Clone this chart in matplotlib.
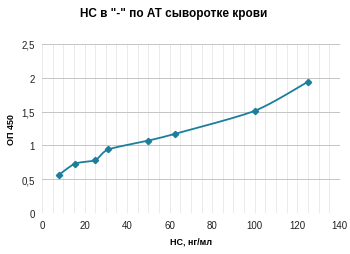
import numpy as np
import matplotlib
matplotlib.use("Agg")
import matplotlib.pyplot as plt
from matplotlib.ticker import FuncFormatter, MultipleLocator

plt.rcParams["font.family"] = ["Liberation Sans", "DejaVu Sans"]

conc = [7.8, 15.6, 25, 31.25, 50, 62.5, 100, 125]
od = [0.56, 0.73, 0.78, 0.94, 1.07, 1.17, 1.51, 1.94]
x_ticks = [0, 20, 40, 60, 80, 100, 120, 140]
y_ticks = [0, 0.5, 1, 1.5, 2, 2.5]


def smooth(x, y, n=20, k=8.0):
    # Excel-like smoothed line (Bezier through the points)
    x = np.asarray(x, float)
    y = np.asarray(y, float)
    px = np.concatenate([[x[0]], x, [x[-1]]])
    py = np.concatenate([[y[0]], y, [y[-1]]])
    xs, ys = [], []
    t = np.linspace(0, 1, n)
    for i in range(1, len(px) - 2):
        p0, p1, p2, p3 = px[i - 1], px[i], px[i + 1], px[i + 2]
        q0, q1, q2, q3 = py[i - 1], py[i], py[i + 1], py[i + 2]
        c1x, c1y = p1 + (p2 - p0) / k, q1 + (q2 - q0) / k
        c2x, c2y = p2 - (p3 - p1) / k, q2 - (q3 - q1) / k
        bx = (1-t)**3*p1 + 3*(1-t)**2*t*c1x + 3*(1-t)*t**2*c2x + t**3*p2
        by = (1-t)**3*q1 + 3*(1-t)**2*t*c1y + 3*(1-t)*t**2*c2y + t**3*q2
        xs.extend(bx)
        ys.extend(by)
    return xs, ys


fig = plt.figure(figsize=(3.5, 2.55), dpi=100)
ax = fig.add_axes([0.12, 0.161, 0.851, 0.663])

col = "#1b7f9c"
sx, sy = smooth(conc, od)
ax.plot(sx, sy, color=col, lw=1.3)
ax.plot(conc, od, "D", color=col, ms=3.2, lw=0)

ax.set_xlim(0, 140)
ax.set_ylim(0, 2.5)
ax.set_xticks(x_ticks)
ax.set_yticks(y_ticks)
ax.xaxis.set_minor_locator(MultipleLocator(5))
ax.grid(True, which="minor", axis="x", color="#e6e6e6", lw=0.6)
ax.grid(True, which="major", axis="x", color="#e6e6e6", lw=0.6)
ax.grid(True, which="major", axis="y", color="#c4c4c4", lw=0.7)
ax.set_axisbelow(True)
for s in ax.spines.values():
    s.set_visible(False)
ax.tick_params(which="both", length=0, labelsize=7, pad=5, labelcolor="#222222")
ax.yaxis.set_major_formatter(FuncFormatter(lambda v, p: ("%g" % v).replace(".", ",")))

ax.set_xlabel("НС, нг/мл", fontsize=6.5, fontweight="bold", labelpad=5)
ax.set_ylabel("ОП 450", fontsize=6.5, fontweight="bold", labelpad=4)
fig.text(0.495, 0.945, 'НС в "-" по АТ сыворотке крови', ha="center", va="center",
         fontsize=8.5, fontweight="bold")

fig.savefig("out.png", dpi=100)
